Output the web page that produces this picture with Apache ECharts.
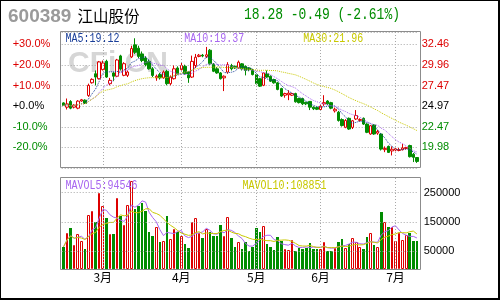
<!DOCTYPE html>
<html>
<head>
<meta charset="utf-8">
<script src="https://cdn.jsdelivr.net/npm/echarts@6/dist/echarts.min.js"></script>
<style>
  html, body { margin: 0; padding: 0; background: #fff; }
  #wrap { position: relative; width: 500px; height: 300px; }
  #main { width: 500px; height: 300px; }
  #frame {
    position: absolute; left: 0; top: 0; width: 500px; height: 300px;
    box-sizing: border-box; border: 1px solid #000;
    border-right-width: 2px; border-bottom-width: 2px; pointer-events: none;
  }
</style>
</head>
<body>
<div id="wrap">
  <div id="main"></div>
  <div id="frame"></div>
</div>
<script>
// daily candles (open / close / low / high)
const opens = [25.37, 24.85, 25.54, 24.85, 24.73, 25.60, 25.70, 26.27, 27.81, 28.90,
  28.30, 29.40, 30.41, 27.70, 29.00, 28.60, 31.06, 28.71, 28.71, 30.94,
  32.40, 32.00, 31.30, 30.80, 30.40, 29.50, 28.40, 28.80, 28.40, 29.20,
  27.70, 28.30, 29.60, 29.40, 29.80, 29.10, 28.50, 29.90, 31.00, 31.15,
  31.00, 31.75, 30.05, 29.50, 29.00, 28.40, 29.10, 29.90, 29.80, 29.60,
  30.10, 29.80, 29.60, 29.40, 28.80, 28.30, 27.50, 28.90, 28.60, 28.20,
  27.80, 27.10, 26.30, 26.35, 26.30, 26.50, 25.90, 25.90, 25.45, 25.55,
  24.85, 24.80, 24.57, 25.25, 25.60, 25.40, 24.40, 24.24, 23.35, 22.41,
  23.50, 22.40, 23.42, 23.25, 23.50, 22.80, 21.60, 22.70, 21.70, 21.60,
  19.70, 20.10, 19.55, 19.65, 19.60, 19.70, 19.85, 20.20, 19.15, 18.75];
const closes = [25.06, 25.25, 24.73, 25.10, 25.58, 25.75, 25.30, 27.49, 28.22, 28.50,
  30.33, 30.20, 28.50, 28.10, 28.60, 30.57, 29.48, 30.12, 29.11, 31.95,
  31.50, 31.00, 30.50, 30.00, 29.50, 28.70, 28.60, 28.40, 29.10, 27.70,
  28.50, 29.50, 28.90, 29.90, 28.90, 28.40, 30.40, 30.90, 31.15, 31.05,
  31.20, 30.10, 29.20, 29.00, 28.30, 28.60, 30.00, 29.50, 29.60, 30.30,
  29.50, 29.30, 29.40, 28.80, 27.70, 27.40, 29.00, 28.50, 28.00, 27.80,
  27.00, 26.20, 26.50, 26.55, 26.50, 25.50, 25.40, 25.25, 25.25, 24.85,
  24.65, 24.60, 24.97, 25.40, 25.25, 24.73, 24.60, 23.23, 22.62, 23.23,
  22.20, 23.20, 23.84, 23.35, 22.80, 21.80, 22.60, 21.60, 21.90, 19.77,
  19.85, 19.37, 19.75, 19.80, 19.70, 19.90, 19.95, 18.85, 18.77, 18.28];
const lows = [25.00, 24.57, 24.60, 24.70, 24.60, 25.50, 25.25, 26.10, 27.70, 27.50,
  28.20, 29.30, 28.40, 27.50, 28.00, 28.50, 29.30, 28.60, 28.50, 30.80,
  31.30, 30.80, 30.30, 29.80, 29.40, 28.50, 28.05, 28.20, 28.30, 27.50,
  27.50, 28.20, 28.80, 29.30, 28.80, 27.80, 28.40, 29.60, 30.90, 30.90,
  30.80, 30.00, 29.10, 28.90, 28.20, 26.80, 28.90, 29.30, 29.50, 29.50,
  29.30, 28.70, 29.20, 28.70, 27.60, 27.30, 27.40, 28.40, 27.90, 27.70,
  26.90, 26.10, 26.00, 25.70, 26.20, 25.40, 25.30, 25.10, 25.10, 24.50,
  24.50, 24.50, 24.40, 25.00, 25.10, 24.60, 24.20, 23.10, 22.50, 22.30,
  22.10, 22.20, 23.30, 23.10, 22.70, 21.70, 21.50, 21.50, 21.50, 19.60,
  19.40, 19.30, 19.00, 19.50, 19.50, 19.60, 19.70, 18.75, 18.20, 18.10];
const highs = [25.45, 25.90, 25.70, 25.20, 25.70, 25.85, 25.80, 27.70, 28.35, 29.30,
  30.45, 30.50, 30.60, 28.40, 29.10, 30.70, 31.20, 30.30, 29.30, 32.30,
  33.20, 32.30, 31.60, 31.00, 30.60, 29.70, 28.80, 29.00, 29.30, 29.40,
  28.70, 29.90, 29.80, 30.30, 30.00, 29.20, 31.10, 31.30, 31.30, 31.30,
  32.15, 31.90, 30.20, 29.70, 29.10, 28.70, 30.30, 30.10, 29.90, 30.50,
  30.20, 29.90, 29.70, 29.50, 28.90, 28.40, 29.10, 29.30, 28.70, 28.30,
  27.90, 27.20, 26.60, 26.90, 26.60, 26.60, 26.00, 26.00, 25.50, 25.60,
  24.95, 24.90, 25.10, 26.30, 25.70, 25.50, 24.80, 24.40, 23.50, 23.40,
  23.60, 23.30, 24.50, 23.50, 23.60, 22.90, 22.70, 22.80, 22.10, 21.70,
  20.10, 20.20, 20.10, 19.90, 19.90, 20.40, 20.05, 20.30, 19.30, 18.80];
const volumes = [64100, 111700, 130300, 69900, 107100, 85000, 58300, 172100, 186000, 148900,
  247600, 204600, 162800, 108200, 108200, 230200, 169800, 140800, 207000, 290600,
  193000, 204600, 215100, 186000, 114000, 102400, 133800, 79200, 85000, 168600,
  90800, 125700, 114000, 102400, 75700, 61800, 148900, 162800, 110600, 93100,
  125700, 114000, 102400, 102400, 140800, 102400, 166300, 93100, 65300, 81500,
  58300, 79200, 50200, 65300, 128000, 116400, 137300, 73400, 64100, 53700,
  98900, 85000, 58300, 53700, 87300, 50200, 61800, 58300, 61800, 76900,
  58300, 58300, 58300, 81500, 50200, 50200, 61800, 81500, 90800, 61800,
  73400, 94300, 79200, 65300, 58300, 96600, 111700, 69900, 64100, 183700,
  148900, 133800, 131500, 85000, 111700, 88500, 104800, 110600, 85000, 85000];

// month ticks (index of the first trading day shown for each month)
const monthStarts = [11, 33, 54, 72, 93];
const monthNames = ['3月', '4月', '5月', '6月', '7月'];

// header and legend texts
const stockCode = '600389';
const stockName = '江山股份';
const quoteText = '18.28 -0.49 (-2.61%)';
const maLegend = ['MA5:19.12', 'MA10:19.37', 'MA30:21.96'];
const volLegend = ['MAVOL5:94546', 'MAVOL10:108851'];

// price scale: previous close and 10% step
const BASE_PRICE = 24.97;
const PRICE_STEP = 2.497;
const PRICE_MIN = 7 * PRICE_STEP;
const PRICE_MAX = 33.96;
const VOL_MIN = -11700;
const VOL_MAX = 300400;
const volTicks = [50000, 150000, 250000];

const RED = '#dd0000';
const GREEN = '#008c00';
const GRID_COLOR = '#a8a8a8';
const MA_COLORS = ['#1a3f99', '#a866f0', '#c8c800'];

const days = closes.map((_, i) => String(i));

function movingAverage(values, n) {
  return values.map((_, i) => {
    const win = values.slice(Math.max(0, i - n + 1), i + 1);
    return +(win.reduce((a, b) => a + b, 0) / win.length).toFixed(3);
  });
}

function levelColor(v) {
  const d = v - BASE_PRICE;
  if (Math.abs(d) < 0.01) return '#000';
  return d > 0 ? RED : GREEN;
}

function pctLabel(v) {
  const pct = (v / BASE_PRICE - 1) * 100;
  if (Math.abs(pct) < 0.05) return '+0.0%';
  return (pct > 0 ? '+' : '') + pct.toFixed(1) + '%';
}

function renderVolume(params, api) {
  const i = api.value(0);
  const top = api.coord([i, api.value(1)]);
  const base = api.coord([i, VOL_MIN]);
  const left = Math.round(top[0] - 1.3);
  const right = Math.round(top[0] + 1.3);
  const y0 = Math.round(top[1]);
  const y1 = Math.round(base[1]);
  if (closes[i] >= opens[i]) {
    return {
      type: 'rect',
      shape: { x: left + 0.5, y: y0 + 0.5, width: right - left - 1, height: y1 - y0 - 1 },
      style: { fill: '#fff', stroke: RED, lineWidth: 1 }
    };
  }
  return {
    type: 'rect',
    shape: { x: left, y: y0, width: right - left, height: y1 - y0 },
    style: { fill: GREEN }
  };
}

const gridLine = {
  silent: true,
  symbol: 'none',
  label: { show: false },
  lineStyle: { color: GRID_COLOR, type: [1, 2], width: 1 },
  emphasis: { disabled: true }
};

const monoText = (text, x, y, color, size, sy) => ({
  type: 'text', x: x, y: y, scaleY: sy, z: 50,
  style: { text: text, fill: color, font: size + 'px "Liberation Mono"', align: 'left', verticalAlign: 'middle' }
});

const chart = echarts.init(document.getElementById('main'));
chart.setOption({
  animation: false,
  textStyle: { fontFamily: 'Liberation Sans' },
  grid: [
    { left: 61.7, width: 357, top: 32, height: 136, outerBoundsMode: 'none' },
    { left: 61.7, width: 357, top: 178, height: 91, outerBoundsMode: 'none' }
  ],
  xAxis: [
    { type: 'category', gridIndex: 0, data: days, show: false },
    {
      type: 'category', gridIndex: 1, data: days,
      axisLine: { show: false }, axisTick: { show: false }, splitLine: { show: false },
      axisLabel: {
        interval: (index) => monthStarts.includes(index),
        formatter: (value, index) => monthNames[monthStarts.indexOf(index)] || '',
        margin: 2, fontSize: 12, color: '#000', fontFamily: 'Noto Sans CJK SC'
      }
    }
  ],
  yAxis: [
    {
      type: 'value', gridIndex: 0, position: 'right',
      min: PRICE_MIN, max: PRICE_MAX, interval: PRICE_STEP,
      axisLine: { show: false }, axisTick: { show: false },
      splitLine: { show: true, lineStyle: { color: GRID_COLOR, type: [1, 2] } },
      axisLabel: {
        showMinLabel: false, showMaxLabel: false, margin: 3, fontSize: 11,
        formatter: (v) => v.toFixed(2),
        color: (v) => levelColor(parseFloat(v))
      }
    },
    {
      type: 'value', gridIndex: 0, position: 'left',
      min: PRICE_MIN, max: PRICE_MAX, interval: PRICE_STEP,
      axisLine: { show: false }, axisTick: { show: false }, splitLine: { show: false },
      axisLabel: {
        showMinLabel: false, showMaxLabel: false, margin: 49, align: 'left', fontSize: 11,
        formatter: pctLabel,
        color: (v) => levelColor(parseFloat(v))
      }
    },
    {
      type: 'value', gridIndex: 1, position: 'right',
      min: VOL_MIN, max: VOL_MAX,
      axisLine: { show: false }, axisTick: { show: false }, splitLine: { show: false },
      axisLabel: {
        customValues: volTicks, margin: 5, fontSize: 11, color: '#000',
        formatter: (v) => String(Math.round(v))
      }
    }
  ],
  graphic: {
    elements: [
      { type: 'text', x: 68, y: 64, z: 0, silent: true,
        style: { text: 'CFi.CN', fill: '#d6d6d6', font: 'bold 30px "Liberation Sans"', verticalAlign: 'middle' } },
      { type: 'text', x: 8, y: 16.5, z: 50,
        style: { text: stockCode, fill: '#9a9a9a', font: 'bold 19px "Liberation Sans"', verticalAlign: 'middle' } },
      { type: 'text', x: 77.5, y: 16, z: 50,
        style: { text: stockName, fill: '#000', font: '15.5px "Noto Sans CJK SC"', verticalAlign: 'middle' } },
      monoText(quoteText, 244, 15, GREEN, 13, 1.3),
      monoText(maLegend[0], 65.5, 38.5, MA_COLORS[0], 10, 1.3),
      monoText(maLegend[1], 184.3, 38.5, MA_COLORS[1], 10, 1.3),
      monoText(maLegend[2], 303.3, 38.5, MA_COLORS[2], 10, 1.3),
      monoText(volLegend[0], 65.5, 186, MA_COLORS[1], 10, 1.3),
      monoText(volLegend[1], 242.5, 186, MA_COLORS[2], 10, 1.3),
      { type: 'rect', z: 60, silent: true,
        shape: { x: 60.5, y: 31.5, width: 360, height: 136 },
        style: { fill: null, stroke: '#8c8c8c', lineWidth: 1 } },
      { type: 'rect', z: 60, silent: true,
        shape: { x: 60.5, y: 177.5, width: 360, height: 92 },
        style: { fill: null, stroke: '#8c8c8c', lineWidth: 1 } }
    ]
  },
  series: [
    {
      name: 'grid-main', type: 'line', xAxisIndex: 0, yAxisIndex: 0, z: 1,
      data: closes, symbol: 'none', lineStyle: { opacity: 0 }, silent: true,
      markLine: Object.assign({}, gridLine, { data: monthStarts.map((i) => ({ xAxis: i })) })
    },
    {
      name: 'K', type: 'candlestick', xAxisIndex: 0, yAxisIndex: 0, z: 3,
      barWidth: 3,
      data: opens.map((o, i) => [o, closes[i], lows[i], highs[i]]),
      itemStyle: { color: '#fff', color0: GREEN, borderColor: RED, borderColor0: GREEN, borderWidth: 1 }
    },
    {
      name: 'MA5', type: 'line', xAxisIndex: 0, yAxisIndex: 0, z: 4,
      data: movingAverage(closes, 5), symbol: 'none',
      lineStyle: { color: MA_COLORS[0], width: 1, type: [1, 1] }
    },
    {
      name: 'MA10', type: 'line', xAxisIndex: 0, yAxisIndex: 0, z: 4,
      data: movingAverage(closes, 10), symbol: 'none',
      lineStyle: { color: MA_COLORS[1], width: 1, type: [1, 1] }
    },
    {
      name: 'MA30', type: 'line', xAxisIndex: 0, yAxisIndex: 0, z: 4,
      data: movingAverage(closes, 30), symbol: 'none',
      lineStyle: { color: MA_COLORS[2], width: 1, type: [1, 1] }
    },
    {
      name: 'grid-vol', type: 'line', xAxisIndex: 1, yAxisIndex: 2, z: 1,
      data: volumes, symbol: 'none', lineStyle: { opacity: 0 }, silent: true,
      markLine: Object.assign({}, gridLine, {
        data: monthStarts.map((i) => ({ xAxis: i })).concat(volTicks.map((v) => ({ yAxis: v })))
      })
    },
    {
      name: 'VOL', type: 'custom', xAxisIndex: 1, yAxisIndex: 2, z: 3,
      data: volumes.map((v, i) => [i, v]),
      encode: { x: 0, y: 1 },
      renderItem: renderVolume
    },
    {
      name: 'MAVOL5', type: 'line', xAxisIndex: 1, yAxisIndex: 2, z: 4,
      data: movingAverage(volumes, 5), symbol: 'none',
      lineStyle: { color: MA_COLORS[1], width: 1 }
    },
    {
      name: 'MAVOL10', type: 'line', xAxisIndex: 1, yAxisIndex: 2, z: 4,
      data: movingAverage(volumes, 10), symbol: 'none',
      lineStyle: { color: MA_COLORS[2], width: 1 }
    }
  ]
});
</script>
</body>
</html>
